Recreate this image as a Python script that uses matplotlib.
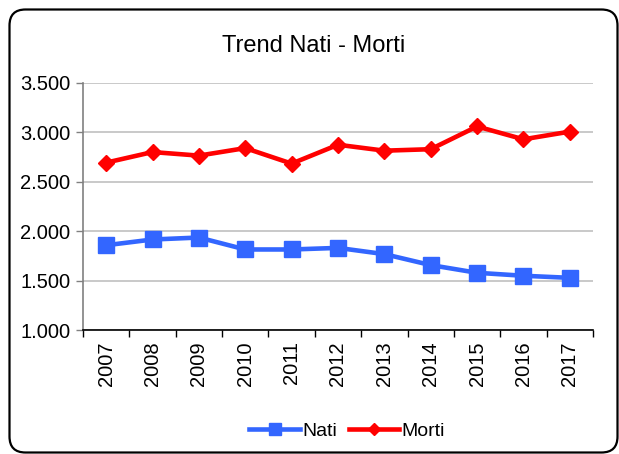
import matplotlib
matplotlib.use("Agg")
import matplotlib.pyplot as plt
from matplotlib.patches import FancyBboxPatch
from matplotlib.ticker import FuncFormatter

years = ["2007", "2008", "2009", "2010", "2011", "2012", "2013", "2014", "2015", "2016", "2017"]
nati = [1858, 1916, 1936, 1815, 1815, 1831, 1768, 1657, 1579, 1549, 1528]
morti = [2694, 2801, 2765, 2841, 2684, 2875, 2815, 2830, 3060, 2930, 3008]

plt.rcParams['font.family'] = ['Liberation Sans', 'DejaVu Sans']
FS_TICK = 14.5
FS_TITLE = 17
FS_LEG = 14

W, H = 619, 454
fig = plt.figure(figsize=(W / 100, H / 100), dpi=100)

# rounded border (pixel coordinates)
border = FancyBboxPatch((9.5, 1.5), 608, 443,
                        boxstyle="round,pad=0,rounding_size=16",
                        transform=None, fill=False, edgecolor="black",
                        linewidth=1.6, zorder=0)
fig.patches.append(border)

ax = fig.add_axes([83 / W, 1 - 330 / H, (593 - 83) / W, (330 - 83) / H])
x = list(range(len(years)))

ax.set_xlim(-0.5, len(years) - 0.5)
ax.set_ylim(1000, 3500)
ax.set_yticks([1000, 1500, 2000, 2500, 3000, 3500])
ax.yaxis.set_major_formatter(FuncFormatter(lambda v, p: f"{int(v):,}".replace(",", ".")))
ax.grid(axis="y", color="#c0c0c0", linewidth=1.2)
ax.set_axisbelow(True)

ax.plot(x, nati, color="#3366ff", linewidth=3.3, marker="s", markersize=11,
        markeredgecolor="#3366ff", label="Nati", zorder=3)
ax.plot(x, morti, color="#ff0000", linewidth=3.3, marker="D", markersize=8,
        markeredgecolor="#ff0000", label="Morti", zorder=4)

ax.set_xticks(x)
ax.set_xticklabels(years, rotation=90, fontsize=FS_TICK)
ax.set_xticks([i - 0.5 for i in range(len(years) + 1)], minor=True)
ax.tick_params(axis="x", which="major", length=0, pad=8)
ax.tick_params(axis="x", which="minor", length=5, width=1, color="black", direction="out")
ax.tick_params(axis="y", length=5, width=1, color="#808080", labelsize=FS_TICK, pad=4)

for s in ("top", "right"):
    ax.spines[s].set_visible(False)
ax.spines["left"].set_color("#808080")
ax.spines["left"].set_linewidth(1.2)
ax.spines["bottom"].set_color("black")
ax.spines["bottom"].set_linewidth(1.2)

fig.text(314 / W, 1 - 46 / H, "Trend Nati - Morti", ha="center", va="center", fontsize=FS_TITLE)

leg = fig.legend(handles=ax.get_lines(), loc="center", bbox_to_anchor=(347 / W, 1 - 431 / H),
                 ncol=2, frameon=False, fontsize=FS_LEG, handlelength=2.6, handletextpad=0.1,
                 columnspacing=0.6, markerscale=0.8)

fig.savefig("out.png", dpi=100)
